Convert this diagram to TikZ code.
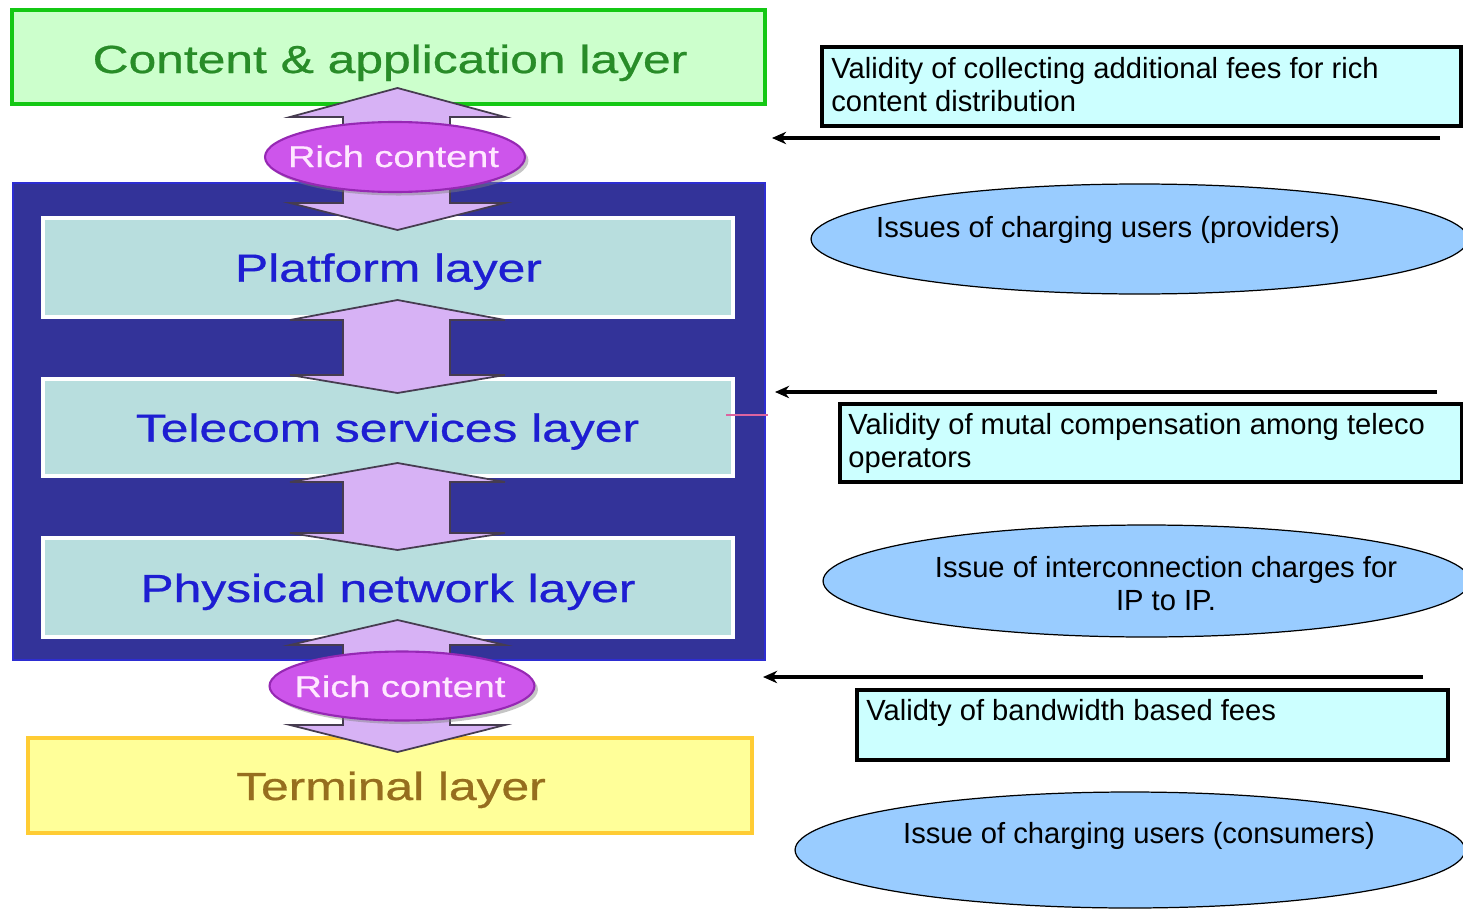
\documentclass[tikz,border=0pt]{standalone}
\usepackage{fontspec}
\setmainfont{Liberation Sans}
\newfontfamily\layerfont[FakeBold=0.6]{Liberation Sans}
\usepackage{graphicx}
\usetikzlibrary{arrows.meta,shadows,shapes.geometric}
\definecolor{calfill}{RGB}{204,255,204}
\definecolor{caldraw}{RGB}{20,200,20}
\definecolor{caltext}{RGB}{40,140,40}
\definecolor{framefill}{RGB}{51,51,153}
\definecolor{framedraw}{RGB}{45,45,210}
\definecolor{layerfill}{RGB}{184,222,222}
\definecolor{layertext}{RGB}{30,30,210}
\definecolor{termfill}{RGB}{255,255,153}
\definecolor{termdraw}{RGB}{255,204,51}
\definecolor{termtext}{RGB}{150,110,30}
\definecolor{lilac}{RGB}{215,178,245}
\definecolor{lilacdraw}{RGB}{70,60,80}
\definecolor{richfill}{RGB}{205,85,235}
\definecolor{richdraw}{RGB}{150,40,180}
\definecolor{richtext}{RGB}{255,232,255}
\definecolor{notefill}{RGB}{204,255,255}
\definecolor{issuefill}{RGB}{153,204,255}
\definecolor{redmark}{RGB}{220,100,160}
\newcommand{\vdarrow}[4]{%
  \filldraw[blockarrow] (397.5,#1) -- (505,#2) -- (450,#2) -- (450,#3) -- (505,#3)
    -- (397.5,#4) -- (290,#3) -- (343,#3) -- (343,#2) -- (290,#2) -- cycle;}
\begin{document}
\begin{tikzpicture}[x=0.02cm,y=-0.02cm,
  box/.style={rectangle, inner sep=0pt, outer sep=0pt},
  layerbox/.style={box, draw=white, line width=2.6pt, fill=layerfill, minimum width=13.8cm},
  laytext/.style={anchor=base, inner sep=0pt, font=\layerfont\fontsize{22.3}{26}\selectfont},
  blockarrow/.style={fill=lilac, draw=lilacdraw, line width=1pt, line join=miter},
  rich/.style={ellipse, inner sep=0pt, fill=richfill, draw=richdraw, line width=1.2pt,
    drop shadow={shadow xshift=2pt, shadow yshift=-2pt, opacity=0.45}},
  richtxt/.style={anchor=base, inner sep=0pt, text=richtext, font=\layerfont\fontsize{17}{20}\selectfont},
  note/.style={box, draw=black, line width=2.3pt, fill=notefill},
  issue/.style={ellipse, inner sep=0pt, draw=black, line width=0.7pt, fill=issuefill},
  rtext/.style={inner sep=0pt, font=\fontsize{16.6}{18.8}\selectfont},
  conn/.style={line width=2.3pt, -{Stealth[length=8pt,width=7pt,inset=2.5pt]}}]
\useasboundingbox (0,0) rectangle (1463,909);
\clip (0,0) rectangle (1463,909);
\fill[white] (0,0) rectangle (1463,909);

% ---- left stack ----
\node[box, draw=caldraw, fill=calfill, line width=2.3pt, minimum width=15.06cm, minimum height=1.88cm] (cal) at (388.5,57) {};
\node[box, draw=framedraw, fill=framefill, line width=1.2pt, minimum width=15.04cm, minimum height=9.54cm] (frame) at (389,421.5) {};
\node[layerbox, minimum height=1.98cm] (plat) at (388,267.5) {};
\node[layerbox, minimum height=1.94cm] (tel) at (388,427.5) {};
\node[layerbox, minimum height=1.98cm] (phys) at (388,587.5) {};
\node[box, draw=termdraw, fill=termfill, line width=2.3pt, minimum width=14.48cm, minimum height=1.9cm] (term) at (390,785.5) {};

\draw[redmark, line width=1.2pt] (726,415) -- (768,415);

\vdarrow{88}{117}{203}{230}
\vdarrow{300}{320}{375}{393}
\vdarrow{463}{482}{533}{550}
\vdarrow{620}{645}{725}{752}

\node[rich, minimum width=5.2cm, minimum height=1.4cm] (rich1) at (395,157) {};
\node[rich, minimum width=5.3cm, minimum height=1.38cm] (rich2) at (402,686) {};

\node[laytext, text=caltext] (calT) at (390,73) {\scalebox{1.27}[1]{Content \& application layer}};
\node[laytext, text=layertext] (platT) at (388.5,281.7) {\scalebox{1.27}[1]{Platform layer}};
\node[laytext, text=layertext] (telT) at (387.5,441.7) {\scalebox{1.27}[1]{Telecom services layer}};
\node[laytext, text=layertext] (physT) at (388,602) {\scalebox{1.27}[1]{Physical network layer}};
\node[laytext, text=termtext] (termT) at (391,800) {\scalebox{1.27}[1]{Terminal layer}};
\node[richtxt] (rich1T) at (393.5,167) {\scalebox{1.27}[1]{Rich content}};
\node[richtxt] (rich2T) at (400,697) {\scalebox{1.27}[1]{Rich content}};

% ---- right side ----
\node[note, minimum width=12.78cm, minimum height=1.58cm] (n1) at (1141.5,86.5) {};
\node[rtext, anchor=north west, align=left] (n1T) at (831,57) {Validity of collecting additional fees for rich\\content distribution};
\coordinate (a1s) at (1440,138);
\coordinate (a1e) at (772,138);
\draw[conn] (a1s) -- (a1e);

\node[issue, minimum width=13.14cm, minimum height=2.2cm] (e1) at (1139.5,239) {};
\node[rtext, anchor=base] (e1T) at (1108,237) {Issues of charging users (providers)};

\coordinate (a2s) at (1437,392);
\coordinate (a2e) at (775,392);
\draw[conn] (a2s) -- (a2e);
\node[note, minimum width=12.44cm, minimum height=1.56cm] (n2) at (1151,443) {};
\node[rtext, anchor=north west, align=left] (n2T) at (848,413) {Validity of mutal compensation among teleco\\operators};

\node[issue, minimum width=12.94cm, minimum height=2.24cm] (e2) at (1146.5,581) {};
\node[rtext, anchor=north, align=center] (e2T) at (1166,556) {Issue of interconnection charges for\\IP to IP.};

\coordinate (a3s) at (1423,677);
\coordinate (a3e) at (763,677);
\draw[conn] (a3s) -- (a3e);
\node[note, minimum width=11.82cm, minimum height=1.4cm] (n3) at (1152.5,725) {};
\node[rtext, anchor=base west] (n3T) at (866,720) {Validty of bandwidth based fees};

\node[issue, minimum width=13.4cm, minimum height=2.32cm] (e3) at (1130,850) {};
\node[rtext, anchor=base] (e3T) at (1139,843) {Issue of charging users (consumers)};
\end{tikzpicture}
\end{document}
